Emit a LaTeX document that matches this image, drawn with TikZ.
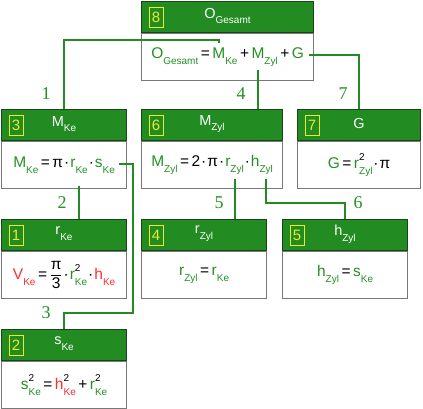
\documentclass[tikz,border=0pt]{standalone}
\usepackage{fontspec}
\setmainfont{Liberation Serif}
\setsansfont{Liberation Sans}
\usetikzlibrary{calc}
\definecolor{hdr}{RGB}{34,139,34}
\definecolor{tg}{RGB}{34,145,34}
\definecolor{tr}{RGB}{255,45,45}
\definecolor{hdrline}{RGB}{25,70,25}
\definecolor{bodyline}{RGB}{120,120,120}
\definecolor{badge}{RGB}{235,235,40}
\newcommand\vsub[1]{\raisebox{-0.4em}{\fontsize{10}{10}\selectfont #1}}
\newcommand\gv[2]{\textcolor{tg}{#1\vsub{#2}}}
\newcommand\rv[2]{\textcolor{tr}{#1\vsub{#2}}}
\newcommand\sqv[3]{\textcolor{#1}{#2}\makebox[0pt][l]{\raisebox{0.5em}{\fontsize{10}{10}\selectfont\color{black}2}}\textcolor{#1}{\vsub{#3}}}
\newcommand\op[1]{\hspace{2.5pt}#1\hspace{2.5pt}}
\newcommand\dt{\hspace{1pt}·\hspace{1pt}}
\tikzset{
  hdrbox/.style={draw=hdrline, fill=hdr, line width=1pt, anchor=north west, inner sep=0pt, minimum height=31pt},
  bodybox/.style={draw=bodyline, fill=white, line width=1.2pt, anchor=north west, inner sep=0pt, minimum height=47pt},
  badgebox/.style={draw=badge, line width=1pt, minimum width=14pt, minimum height=20pt, inner sep=0pt, text=badge, font=\sffamily\fontsize{15}{15}\selectfont},
  titletext/.style={text=white, inner sep=0pt, font=\sffamily\fontsize{14.5}{14.5}\selectfont},
  formtext/.style={inner sep=0pt, font=\sffamily\fontsize{15.5}{15.5}\selectfont},
  conn/.style={draw=hdr, line width=1.8pt},
  lbl/.style={text=tg, inner sep=0pt, font=\rmfamily\fontsize{18}{18}\selectfont}
}
\newcommand\mkbox[7]{%
  \node[hdrbox, minimum width=#3pt] (#1h) at (#2,#4) {};
  \node[bodybox, minimum width=#3pt] (#1b) at (#1h.south west) {};
  \node[badgebox] (#1n) at ($(#1h.west)+(15pt,0)$) {#5};
  \node[titletext] (#1t) at ($(#1h.center)+(0,1pt)$) {#6};
  \node[formtext] (#1f) at (#1b.center) {#7};
}
\begin{document}
\begin{tikzpicture}[x=1pt,y=-1pt]
\useasboundingbox (0,0) rectangle (423,408);
\mkbox{b8}{141}{172}{1}{8}{O\vsub{Gesamt}}{\gv{O}{Gesamt}\op{=}\gv{M}{Ke}\op{+}\gv{M}{Zyl}\op{+}\textcolor{tg}{G}}
\mkbox{b3}{1}{125}{109}{3}{M\vsub{Ke}}{\gv{M}{Ke}\op{=}π\dt\gv{r}{Ke}\dt\gv{s}{Ke}}
\mkbox{b6}{141}{141}{109}{6}{M\vsub{Zyl}}{\gv{M}{Zyl}\op{=}2\dt π\dt\gv{r}{Zyl}\dt\gv{h}{Zyl}}
\mkbox{b7}{297}{123}{109}{7}{G}{\textcolor{tg}{G}\op{=}\sqv{tg}{r}{Zyl}\dt π}
\mkbox{b1}{1}{125}{219}{1}{r\vsub{Ke}}{\rv{V}{Ke}\op{=}${\displaystyle\frac{\mbox{π}}{\mbox{3}}}$\dt\sqv{tg}{r}{Ke}\dt\rv{h}{Ke}}
\mkbox{b4}{141}{125}{219}{4}{r\vsub{Zyl}}{\gv{r}{Zyl}\op{=}\gv{r}{Ke}}
\mkbox{b5}{282}{125}{219}{5}{h\vsub{Zyl}}{\gv{h}{Zyl}\op{=}\gv{s}{Ke}}
\mkbox{b2}{1}{125}{329}{2}{s\vsub{Ke}}{\sqv{tg}{s}{Ke}\op{=}\sqv{tr}{h}{Ke}\op{+}\sqv{tg}{r}{Ke}}
% connectors
\coordinate (s1) at (219,43);
\coordinate (s4) at (258,70);
\coordinate (s7) at (309,55);
\coordinate (s2) at (79,186);
\coordinate (s3) at (119,164);
\coordinate (k3) at (133,313);
\coordinate (s5) at (235,179);
\coordinate (s6) at (266,179);
\coordinate (k6) at (266,203);
\draw[conn] (s1) -- ++(0,-3) -| (b3h.north);
\draw[conn] (s4) -- (s4 |- b6h.north);
\draw[conn] (s7) -| (b7h.north);
\draw[conn] (s2) -- (s2 |- b1h.north);
\draw[conn] (s3) -| (k3) -| (b2h.north);
\draw[conn] (s5) -- (s5 |- b4h.north);
\draw[conn] (s6) -- (k6) -| (b5h.north);
% labels
\node[lbl] (l1) at (46,94) {1};
\node[lbl] (l4) at (241,94) {4};
\node[lbl] (l7) at (343,94) {7};
\node[lbl] (l2) at (62,203) {2};
\node[lbl] (l5) at (219,203) {5};
\node[lbl] (l6) at (358,203) {6};
\node[lbl] (l3) at (46,313) {3};
\end{tikzpicture}
\end{document}
